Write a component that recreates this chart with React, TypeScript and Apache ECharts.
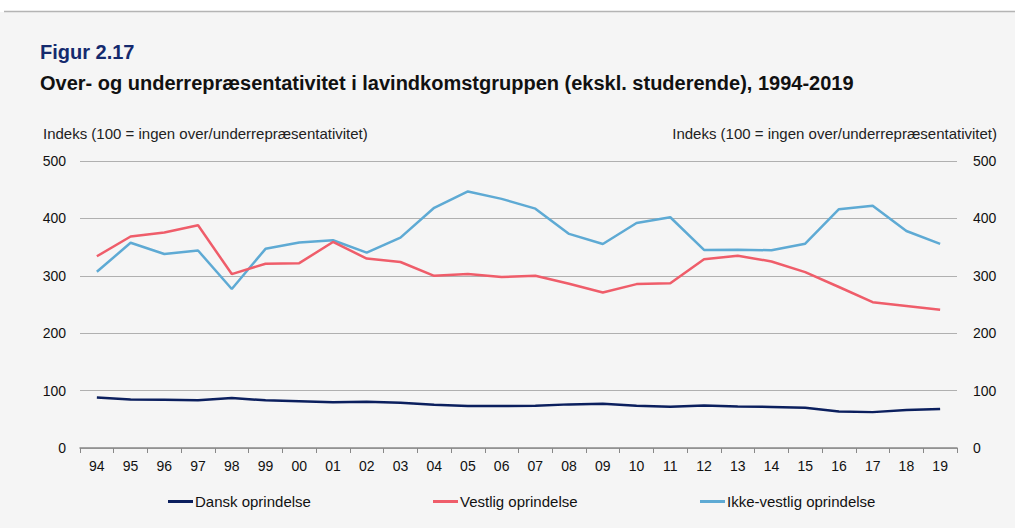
import React, { useEffect, useRef } from "react";
import * as echarts from "echarts";

const years = ["94","95","96","97","98","99","00","01","02","03","04","05","06","07","08","09","10","11","12","13","14","15","16","17","18","19"];
const dansk = [88,84.5,84,83,87,83,81.5,79.5,80.5,79,75.5,73,73,73.5,76,77,73.5,72,74,72.5,71.5,70,63.5,62.5,66,68];
const vestlig = [334,368.5,375.5,388,303,321,322,359,330,324,300,303,298,300,286,271,285.5,287,329,335,325,306.5,280.5,254,247.5,241];
const ikkeVestlig = [307,357.5,338,344,277,347,358,362,340.5,366.5,418.5,447,434,417,373,355.5,392,402,345,345.5,344.5,356,416,422,378,355.5];
const yTicks = [0, 100, 200, 300, 400, 500];

const seriesNames = ["Dansk oprindelse", "Vestlig oprindelse", "Ikke-vestlig oprindelse"];
const seriesColors = ["#0b1f5e", "#ef5d6a", "#5eaad4"];
const titleText = "Figur 2.17";
const subtitleText = "Over- og underrepræsentativitet i lavindkomstgruppen (ekskl. studerende), 1994-2019";
const axisName = "Indeks (100 = ingen over/underrepræsentativitet)";

const FONT = "'Liberation Sans', Arial, sans-serif";

export default function App() {
  const ref = useRef<HTMLDivElement>(null);
  useEffect(() => {
    if (!ref.current) return;
    const chart = echarts.init(ref.current, null, { renderer: "svg" });
    const yMin = yTicks[0];
    const yMax = yTicks[yTicks.length - 1];
    const yInt = yTicks[1] - yTicks[0];
    const legendLefts = [168, 433, 700];
    const dataSets = [dansk, vestlig, ikkeVestlig];
    chart.setOption({
      animation: false,
      backgroundColor: "#ffffff",
      textStyle: { fontFamily: FONT },
      graphic: [
        { type: "rect", shape: { x: 0, y: 12, width: 1015, height: 516 }, style: { fill: "#f5f5f5" }, z: -10 },
        { type: "line", shape: { x1: 4, y1: 11.5, x2: 1015, y2: 11.5 }, style: { stroke: "#b4b4b4", lineWidth: 1.5 }, z: -5 },
        { type: "text", x: 40, y: 52, style: { text: titleText, fill: "#142a6e", font: `bold 20px ${FONT}`, textVerticalAlign: "middle" } },
        { type: "text", x: 40, y: 83, style: { text: subtitleText, fill: "#111111", font: `bold 20px ${FONT}`, textVerticalAlign: "middle" } },
        { type: "text", x: 43, y: 133, style: { text: axisName, fill: "#222222", font: `15px ${FONT}`, textVerticalAlign: "middle" } },
        { type: "text", x: 997, y: 133, style: { text: axisName, fill: "#222222", font: `15px ${FONT}`, textVerticalAlign: "middle", textAlign: "right" } },
      ],
      legend: seriesNames.map((n, i) => ({
        data: [n],
        left: legendLefts[i],
        top: 494,
        icon: "rect",
        itemWidth: 25,
        itemHeight: 3,
        itemGap: 0,
        textStyle: { fontFamily: FONT, fontSize: 15, color: "#111111", padding: [0, 0, 0, -3] },
        padding: 0,
      })),
      grid: { left: 80, right: 58, top: 161, bottom: 80, containLabel: false },
      xAxis: {
        type: "category",
        data: years,
        boundaryGap: true,
        axisLine: { lineStyle: { color: "#888888", width: 1.5 } },
        axisTick: { show: true, length: 5, lineStyle: { color: "#888888" } },
        axisLabel: { color: "#111111", fontSize: 14, fontFamily: FONT, margin: 11 },
      },
      yAxis: [
        {
          type: "value", min: yMin, max: yMax, interval: yInt, position: "left",
          axisLine: { show: false }, axisTick: { show: false },
          axisLabel: { color: "#111111", fontSize: 14, fontFamily: FONT, margin: 14 },
          splitLine: { lineStyle: { color: "#b0b0b0", width: 1 } },
        },
        {
          type: "value", min: yMin, max: yMax, interval: yInt, position: "right",
          axisLine: { show: false }, axisTick: { show: false },
          axisLabel: { color: "#111111", fontSize: 14, fontFamily: FONT, margin: 16 },
          splitLine: { show: false },
        },
      ],
      series: seriesNames.map((n, i) => ({
        name: n,
        type: "line",
        data: dataSets[i],
        yAxisIndex: 0,
        symbol: "none",
        lineStyle: { color: seriesColors[i], width: 2.5 },
        itemStyle: { color: seriesColors[i] },
        z: 3 - i,
      })),
    });
    return () => chart.dispose();
  }, []);
  return <div ref={ref} style={{ position: "absolute", left: 0, top: 0, width: 1015, height: 528 }} />;
}
